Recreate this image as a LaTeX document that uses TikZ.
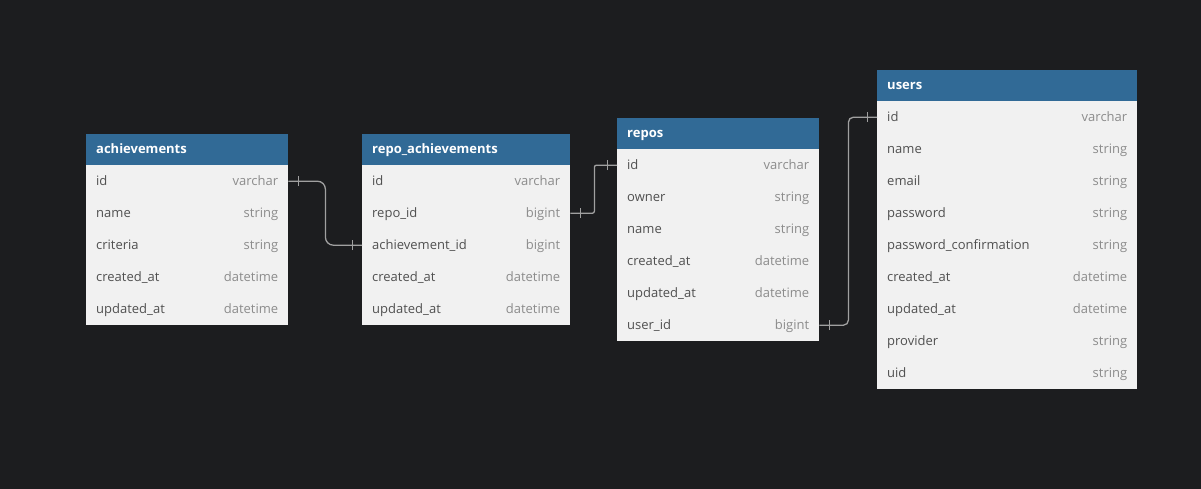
\documentclass[tikz,border=0pt]{standalone}
\usepackage{fontspec}
\setmainfont{Open Sans}
\usetikzlibrary{decorations.markings}

\definecolor{canvas}{HTML}{1C1D1F}
\definecolor{headblue}{HTML}{316A96}
\definecolor{rowbg}{HTML}{F1F1F1}
\definecolor{fieldtxt}{HTML}{505050}
\definecolor{typetxt}{HTML}{8C8C8C}
\definecolor{linkgray}{HTML}{A0A0A0}

\tikzset{
  head/.style={fill=headblue, text=white, font=\fontsize{13}{15}\selectfont\bfseries,
    anchor=north west, minimum width=#1, text width=#1-20, align=left,
    minimum height=31, inner xsep=10, inner ysep=0, text height=10.5, text depth=2},
  row/.style={fill=rowbg, text=fieldtxt, font=\fontsize{13}{15}\selectfont,
    anchor=north west, minimum width=#1, text width=#1-20, align=left,
    minimum height=32, inner xsep=10, inner ysep=0, text height=10.5, text depth=2},
  type/.style={anchor=east, xshift=-10, text=typetxt, font=\fontsize{13}{15}\selectfont,
    inner sep=0, text height=10.5, text depth=2},
  rel/.style={draw=linkgray, line width=1.3, postaction={decorate},
    decoration={markings,
      mark=at position 10pt with {\draw[linkgray, line width=0.9] (0,-5pt) -- (0,5pt);},
      mark=at position -10pt with {\draw[linkgray, line width=0.9] (0,-5pt) -- (0,5pt);}}}
}

\begin{document}
\begin{tikzpicture}[x=1pt,y=-1pt]
\useasboundingbox (0,0) rectangle (1201,489);
\fill[canvas] (0,0) rectangle (1201,489);

% achievements
\node[head=202] (ach) at (86,134) {achievements};
\foreach \k/\f/\t [count=\i] in {id/id/varchar, name/name/string, criteria/criteria/string,
    created/created\_at/datetime, updated/updated\_at/datetime}
  \node[row=202, label={[type]east:\t}] (ach-\k) at (86,{165+32*(\i-1)}) {\f};

% repo_achievements
\node[head=208] (rach) at (362,134) {repo\_achievements};
\foreach \k/\f/\t [count=\i] in {id/id/varchar, repoid/repo\_id/bigint, achid/achievement\_id/bigint,
    created/created\_at/datetime, updated/updated\_at/datetime}
  \node[row=208, label={[type]east:\t}] (rach-\k) at (362,{165+32*(\i-1)}) {\f};

% repos
\node[head=202] (rep) at (617,118) {repos};
\foreach \k/\f/\t [count=\i] in {id/id/varchar, owner/owner/string, name/name/string,
    created/created\_at/datetime, updated/updated\_at/datetime, userid/user\_id/bigint}
  \node[row=202, label={[type]east:\t}] (rep-\k) at (617,{149+32*(\i-1)}) {\f};

% users
\node[head=260] (usr) at (877,70) {users};
\foreach \k/\f/\t [count=\i] in {id/id/varchar, name/name/string, email/email/string,
    pw/password/string, pwconf/password\_confirmation/string, created/created\_at/datetime,
    updated/updated\_at/datetime, provider/provider/string, uid/uid/string}
  \node[row=260, label={[type]east:\t}] (usr-\k) at (877,{101+32*(\i-1)}) {\f};

% relations
\draw[rel, rounded corners=8] (ach-id.east) -- ++(37,0) |- (rach-achid.west);
\draw[rel, rounded corners=2] (rach-repoid.east) -- ++(24,0) |- (rep-id.west);
\draw[rel, rounded corners=5] (rep-userid.east) -- ++(29,0) |- (usr-id.west);
\end{tikzpicture}
\end{document}
